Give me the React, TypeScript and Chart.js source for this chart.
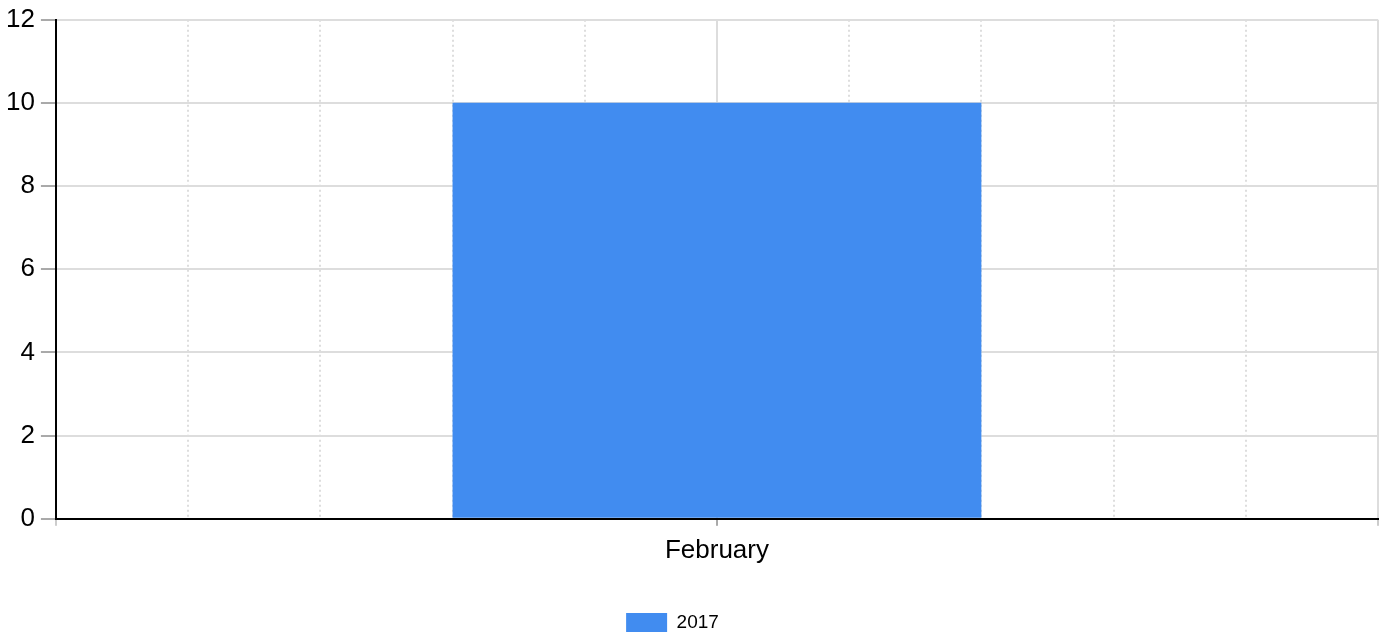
import React, { useEffect, useRef } from "react";
import { Chart, registerables } from "chart.js";

Chart.register(...registerables);

const categories: string[] = ["February"];
const seriesLabel = "2017";
const seriesValues: number[] = [10];
const yMin = 0;
const yMax = 12;
const yStep = 2;
const minorMin = 0;
const minorMax = 10;

const legendShift = {
  id: "legendShift",
  afterLayout(chart: any) {
    const lg = chart.legend;
    if (lg) {
      lg.left -= 33;
      lg.top += 5;
      lg.bottom += 5;
    }
  },
};

export default function App() {
  const ref = useRef<HTMLCanvasElement | null>(null);

  useEffect(() => {
    document.body.style.margin = "0";
    const canvas = ref.current;
    if (!canvas) return;
    const font = "'Liberation Sans', Arial, sans-serif";
    const chart = new Chart(canvas, {
      type: "bar",
      data: {
        labels: categories,
        datasets: [
          {
            label: seriesLabel,
            data: seriesValues,
            backgroundColor: "#418cf0",
            borderWidth: 0,
            barPercentage: 0.4,
            categoryPercentage: 1,
            xAxisID: "x",
            yAxisID: "y",
          },
        ],
      },
      plugins: [legendShift],
      options: {
        animation: false,
        responsive: false,
        maintainAspectRatio: false,
        layout: { padding: { top: 0, right: 7, left: 0, bottom: 0 } },
        plugins: {
          legend: {
            position: "bottom",
            labels: {
              boxWidth: 41,
              boxHeight: 19,
              padding: 1,
              color: "#000",
              font: { family: font, size: 19 },
            },
          },
          tooltip: { enabled: false },
        },
        scales: {
          x: {
            type: "category",
            offset: true,
            weight: 5,
            grid: {
              offset: false,
              color: "#dddddd",
              lineWidth: 2,
              drawTicks: false,
            },
            border: { display: false },
            ticks: { color: "#000", font: { family: font, size: 26 }, padding: 9 },
            afterFit: (scale: any) => {
              scale.height += 32;
            },
          },
          x2: {
            type: "linear",
            position: "bottom",
            weight: 0,
            offset: false,
            min: minorMin,
            max: minorMax,
            grid: {
              offset: false,
              drawTicks: true,
              tickLength: 7,
              tickWidth: 1,
              tickColor: (ctx: any) =>
                ctx.index === 5 ? "#555555" : ctx.index % 10 === 0 ? "#999999" : "rgba(0,0,0,0)",
              color: "#dddddd",
              lineWidth: 2,
            },
            border: {
              display: true,
              color: "#000",
              width: 2,
              dash: (ctx: any) => (ctx.index === undefined || ctx.index % 5 === 0 ? [] : [2, 3]),
            },
            ticks: { display: false, stepSize: 1 },
          },
          y: {
            type: "linear",
            min: yMin,
            max: yMax,
            grid: {
              color: "#dddddd",
              lineWidth: 2,
              tickColor: "#555555",
              tickWidth: 1,
              tickLength: 15,
            },
            border: { display: true, color: "#000", width: 2 },
            ticks: {
              stepSize: yStep,
              color: "#000",
              padding: 6,
              font: { family: font, size: 26, lineHeight: 1.05 },
            },
          },
        },
      },
    });
    return () => chart.destroy();
  }, []);

  return (
    <div style={{ width: 1385, height: 637 }}>
      <canvas ref={ref} width={1385} height={637} style={{ display: "block" }} />
    </div>
  );
}
